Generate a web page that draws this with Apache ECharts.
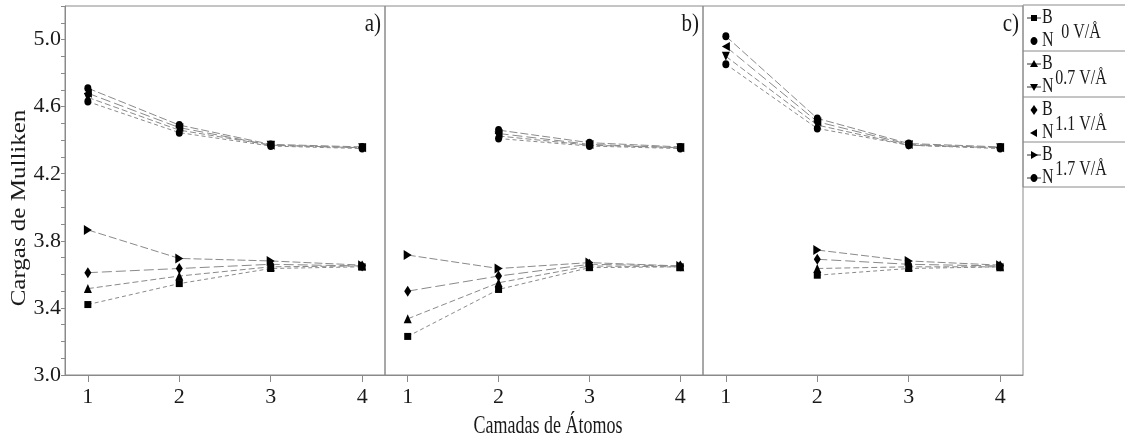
<!DOCTYPE html>
<html lang="pt">
<head>
    <meta charset="UTF-8">
    <title>Cargas de Mulliken</title>
    <style>
        body { margin: 0; background: #fff; }
        #chart { width: 1125px; height: 441px; }
    </style>
    <script src="https://cdn.jsdelivr.net/npm/echarts@6/dist/echarts.min.js"></script>
</head>
<body>
    <div id="chart"></div>
    <script>
        // camadas (eixo x) e rótulos do eixo y
        const layers = [1, 2, 3, 4];
        const yTickLabels = [3.0, 3.4, 3.8, 4.2, 4.6, 5.0];
        const fields = ['0 V/Å', '0.7 V/Å', '1.1 V/Å', '1.7 V/Å'];
        const panelNames = ['a)', 'b)', 'c)'];

        // painel a)
        const aB0 = [3.42, 3.545, 3.635, 3.645];
        const aB07 = [3.515, 3.59, 3.645, 3.65];
        const aB11 = [3.61, 3.635, 3.66, 3.65];
        const aB17 = [3.865, 3.695, 3.68, 3.655];
        const aN0 = [4.63, 4.445, 4.365, 4.35];
        const aN07 = [4.655, 4.46, 4.37, 4.355];
        const aN11 = [4.68, 4.475, 4.37, 4.355];
        const aN17 = [4.71, 4.49, 4.375, 4.36];

        // painel b)
        const bB0 = [3.23, 3.51, 3.64, 3.645];
        const bB07 = [3.335, 3.55, 3.65, 3.645];
        const bB11 = [3.50, 3.59, 3.66, 3.65];
        const bB17 = [3.715, 3.635, 3.67, 3.65];
        const bN0 = [null, 4.41, 4.365, 4.35];
        const bN07 = [null, 4.425, 4.37, 4.355];
        const bN11 = [null, 4.44, 4.375, 4.355];
        const bN17 = [null, 4.46, 4.385, 4.36];

        // painel c)
        const cB0 = [null, 3.595, 3.635, 3.645];
        const cB07 = [null, 3.635, 3.645, 3.645];
        const cB11 = [null, 3.69, 3.66, 3.65];
        const cB17 = [null, 3.745, 3.68, 3.655];
        const cN0 = [4.853, 4.47, 4.37, 4.35];
        const cN07 = [4.90, 4.49, 4.37, 4.355];
        const cN11 = [4.958, 4.51, 4.375, 4.355];
        const cN17 = [5.02, 4.53, 4.38, 4.36];

        const FONT = 'Liberation Serif';
        const GRAY = '#8a8a8a';
        const INK = '#1a1a1a';

        const SYM = {
            square: 'rect',
            circle: 'circle',
            up: 'triangle',
            down: 'path://M0,0 L10,0 L5,10 Z',
            diamond: 'diamond',
            left: 'path://M10,0 L10,10 L0,5 Z',
            right: 'path://M0,0 L10,5 L0,10 Z'
        };

        // símbolo de B, de N e o tracejado de cada campo
        const styles = [
            { b: SYM.square, n: SYM.circle, dash: [4, 3], bs: 7, ns: [7, 8] },
            { b: SYM.up, n: SYM.down, dash: [6, 3], bs: [8, 9], ns: [8, 9] },
            { b: SYM.diamond, n: SYM.left, dash: [10, 4], bs: [7, 11], ns: [8, 9] },
            { b: SYM.right, n: SYM.circle, dash: [8, 3], bs: [8, 10], ns: [7, 8] }
        ];

        const panels = [
            { B: [aB0, aB07, aB11, aB17], N: [aN0, aN07, aN11, aN17] },
            { B: [bB0, bB07, bB11, bB17], N: [bN0, bN07, bN11, bN17] },
            { B: [cB0, cB07, cB11, cB17], N: [cN0, cN07, cN11, cN17] }
        ];

        const gridPos = [
            { left: 65, width: 320 },
            { left: 385, width: 318 },
            { left: 703, width: 320 }
        ];

        const yMinor = [];
        for (let i = 0; i <= 22; i++) yMinor.push(+(3 + i * 0.1).toFixed(1));

        function toPoints(vals) {
            const pts = [];
            vals.forEach((v, k) => {
                if (v !== null) pts.push([layers[k], v]);
            });
            return pts;
        }

        const grids = [], xAxes = [], yAxes = [], series = [];
        const gfx = [];

        gridPos.forEach((g, i) => {
            grids.push({
                left: g.left, top: 6, width: g.width, height: 369,
                show: true, borderColor: GRAY, borderWidth: 1, backgroundColor: 'transparent'
            });
            xAxes.push({
                gridIndex: i, type: 'value', min: 0.75, max: 4.25,
                axisLine: { show: true, lineStyle: { color: GRAY } },
                axisTick: { show: true, customValues: layers, length: 7, lineStyle: { color: GRAY } },
                axisLabel: {
                    customValues: layers, fontFamily: FONT, fontSize: 22, color: INK, margin: 11
                },
                splitLine: { show: false }
            });
            yAxes.push({
                gridIndex: i, type: 'value', min: 3.0, max: 5.2,
                axisLine: { show: i === 0, lineStyle: { color: GRAY } },
                axisTick: { show: i === 0, customValues: yMinor, length: 4, lineStyle: { color: GRAY } },
                axisLabel: {
                    show: i === 0, customValues: yTickLabels, fontFamily: FONT, fontSize: 22,
                    color: INK, margin: 4, formatter: v => v.toFixed(1)
                },
                splitLine: { show: false }
            });
            // rótulo do painel
            gfx.push({
                type: 'text', x: g.left + g.width - 4, y: 25, scaleY: 1.15,
                style: { text: panelNames[i], font: '21px "Liberation Serif"', fill: INK,
                         align: 'right', verticalAlign: 'middle' }
            });

            ['B', 'N'].forEach(kind => {
                panels[i][kind].forEach((vals, f) => {
                    const st = styles[f];
                    series.push({
                        name: kind + ' ' + fields[f],
                        type: 'line',
                        xAxisIndex: i, yAxisIndex: i,
                        data: toPoints(vals),
                        symbol: kind === 'B' ? st.b : st.n,
                        symbolSize: kind === 'B' ? st.bs : st.ns,
                        itemStyle: { color: '#000' },
                        lineStyle: { color: GRAY, width: 1, type: st.dash },
                        z: 3
                    });
                });
            });
        });

        // títulos dos eixos (esticados na vertical como no original)
        gfx.push({
            type: 'text', x: 548, y: 427, scaleY: 1.35,
            style: { text: 'Camadas de Átomos', font: '18px "Liberation Serif"', fill: INK,
                     align: 'center', verticalAlign: 'middle' }
        });
        gfx.push({
            type: 'text', x: 20, y: 208, rotation: Math.PI / 2, scaleX: 1.25,
            style: { text: 'Cargas de Mulliken', font: '20px "Liberation Serif"', fill: INK,
                     align: 'center', verticalAlign: 'middle' }
        });

        // legenda desenhada à mão (caixa com B/N e o campo)
        const rowTops = [5, 51, 97, 142, 187];
        gfx.push({
            type: 'rect', shape: { x: 1023, y: 5, width: 110, height: 182 },
            style: { fill: 'none', stroke: GRAY, lineWidth: 1 }
        });
        for (let r = 1; r < 4; r++) {
            gfx.push({
                type: 'line', shape: { x1: 1023, y1: rowTops[r], x2: 1125, y2: rowTops[r] },
                style: { stroke: GRAY, lineWidth: 1 }
            });
        }
        const legendShapes = [
            ['square', 'circle'],
            ['up', 'down'],
            ['diamond', 'left'],
            ['right', 'circle']
        ];
        const legendLines = [[true, false], [true, true], [false, false], [true, true]];

        function shapeAt(kind, cx, cy) {
            const s = 4;
            const fill = { fill: '#000' };
            if (kind === 'square') return { type: 'rect', shape: { x: cx - 3, y: cy - 3, width: 6, height: 6 }, style: fill };
            if (kind === 'circle') return { type: 'ellipse', shape: { cx: cx, cy: cy, rx: 3.5, ry: 4 }, style: fill };
            if (kind === 'up') return { type: 'polygon', shape: { points: [[cx - s, cy + 3], [cx + s, cy + 3], [cx, cy - 4]] }, style: fill };
            if (kind === 'down') return { type: 'polygon', shape: { points: [[cx - s, cy - 3], [cx + s, cy - 3], [cx, cy + 4]] }, style: fill };
            if (kind === 'diamond') return { type: 'polygon', shape: { points: [[cx, cy - 5], [cx + 3.5, cy], [cx, cy + 5], [cx - 3.5, cy]] }, style: fill };
            if (kind === 'left') return { type: 'polygon', shape: { points: [[cx + 3, cy - s], [cx + 3, cy + s], [cx - 4, cy]] }, style: fill };
            return { type: 'polygon', shape: { points: [[cx - 3, cy - s], [cx - 3, cy + s], [cx + 4, cy]] }, style: fill };
        }

        fields.forEach((label, r) => {
            const top = rowTops[r];
            const ys = [top + 13, top + 36];
            ['B', 'N'].forEach((t, k) => {
                if (legendLines[r][k]) {
                    gfx.push({
                        type: 'line', shape: { x1: 1027, y1: ys[k], x2: 1041, y2: ys[k] },
                        style: { stroke: '#333', lineWidth: 1 }
                    });
                }
                gfx.push(shapeAt(legendShapes[r][k], 1034, ys[k]));
                gfx.push({
                    type: 'text', x: 1042, y: ys[k], scaleY: 1.3,
                    style: { text: t, font: '16px "Liberation Serif"', fill: INK, verticalAlign: 'middle' }
                });
            });
            gfx.push({
                type: 'text', x: 1081, y: top + 27, scaleY: 1.35,
                style: { text: label, font: '16px "Liberation Serif"', fill: INK,
                         align: 'center', verticalAlign: 'middle' }
            });
        });

        const chart = echarts.init(document.getElementById('chart'), null, { renderer: 'canvas' });
        chart.setOption({
            animation: false,
            backgroundColor: '#fff',
            grid: grids,
            xAxis: xAxes,
            yAxis: yAxes,
            series: series,
            graphic: gfx
        });
    </script>
</body>
</html>
